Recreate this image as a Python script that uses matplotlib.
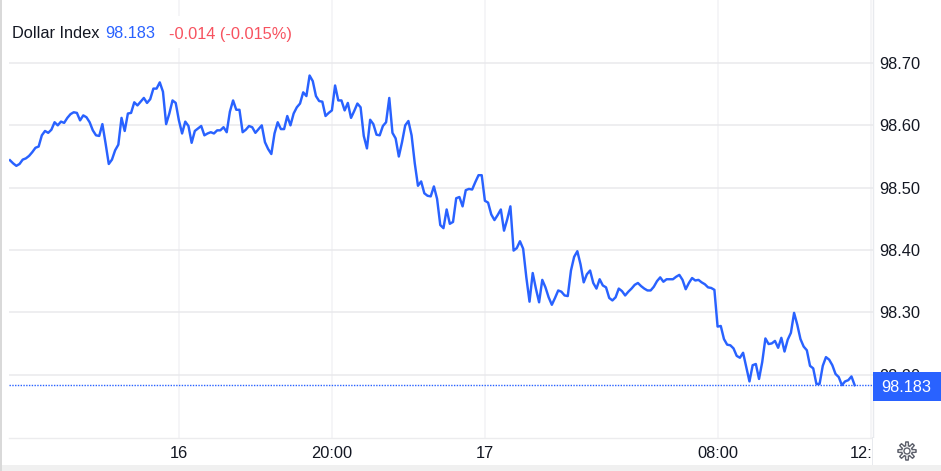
import numpy as np
import matplotlib
matplotlib.use("Agg")
import matplotlib.pyplot as plt
from matplotlib.patches import Rectangle, Polygon, Circle
from matplotlib.transforms import IdentityTransform

prices = [
98.544,98.539,98.535,98.538,98.545,98.547,98.551,98.557,98.564,98.566,98.584,98.591,98.588,98.593,98.605,98.600,
98.606,98.604,98.612,98.618,98.621,98.620,98.608,98.616,98.613,98.605,98.592,98.584,98.583,98.602,98.571,98.538,
98.545,98.560,98.569,98.612,98.591,98.619,98.620,98.637,98.632,98.638,98.644,98.636,98.642,98.659,98.659,98.669,
98.654,98.602,98.619,98.640,98.636,98.608,98.587,98.606,98.599,98.572,98.591,98.595,98.599,98.584,98.587,98.589,
98.587,98.592,98.592,98.597,98.589,98.622,98.640,98.625,98.625,98.589,98.593,98.599,98.597,98.588,98.594,98.600,
98.573,98.562,98.554,98.587,98.605,98.594,98.594,98.615,98.600,98.619,98.629,98.635,98.653,98.647,98.680,98.671,
98.647,98.639,
98.638,98.615,98.620,98.624,98.664,98.640,98.640,98.624,98.636,98.612,98.623,98.635,98.629,98.583,98.563,
98.609,98.602,98.585,98.584,98.599,98.605,98.644,98.588,98.579,98.550,98.573,98.600,98.607,98.584,98.539,98.503,
98.510,98.491,98.487,98.486,98.502,98.482,98.440,98.435,98.465,98.442,98.445,98.483,98.485,98.470,98.496,98.498,
98.497,98.509,98.520,98.520,98.479,98.476,98.457,98.448,98.456,98.465,98.431,98.449,98.470,98.399,98.403,98.414,
98.402,98.356,98.317,98.363,98.338,98.316,98.352,98.340,98.324,98.312,98.323,98.335,98.333,98.327,98.326,98.367,
98.389,98.398,98.377,98.348,98.361,98.367,98.347,98.338,98.353,98.343,98.340,98.323,98.319,98.324,98.338,
98.334,98.327,98.333,98.338,98.344,98.347,98.342,98.338,98.335,98.335,98.341,98.350,98.356,98.349,98.353,
98.353,98.353,98.357,98.360,98.352,98.337,98.347,98.355,98.351,98.352,98.348,98.345,98.340,98.339,98.336,98.277,
98.278,98.257,98.248,98.247,98.242,98.230,98.227,98.235,98.212,98.189,98.215,98.217,98.193,98.220,98.258,98.249,
98.250,98.254,98.243,98.259,98.237,98.256,98.267,98.299,98.280,98.257,98.245,98.239,98.214,98.210,98.185,98.185,
98.214,98.228,98.224,98.215,98.201,98.196,98.183,98.189,98.191,98.197,98.183,
]
last_price = 98.183
y_ticks = [98.20, 98.30, 98.40, 98.50, 98.60, 98.70]
y_labels = ["98.20", "98.30", "98.40", "98.50", "98.60", "98.70"]
x_tick_bars = [53, 101, 149, 222, 270]
x_labels = ["16", "20:00", "17", "08:00", "12:00"]

W, H = 941, 471
FONT = "Liberation Sans"
BLUE = "#2962ff"
INK = "#131722"
RED = "#f7525f"
plt.rcParams["font.family"] = FONT

def fx(p): return p / W
def fy(p): return 1 - p / H

fig = plt.figure(figsize=(W / 100, H / 100), dpi=100, facecolor="white")
ax = fig.add_axes([fx(9), fy(437.5), (872.5 - 9) / W, 437.5 / H])
ax.set_facecolor("white")

bars = np.arange(len(prices))
ax.plot(bars, prices, color=BLUE, lw=1.75, solid_joinstyle="round", zorder=3)
ax.axhline(last_price, color=BLUE, lw=1.0, ls=(0, (1, 1)), zorder=2)

ax.set_xlim(-0.3, 270.6)
ax.set_ylim(98.0990, 98.8012)
ax.set_yticks(y_ticks, y_labels)
ax.set_xticks(x_tick_bars, x_labels)
ax.yaxis.tick_right()
ax.tick_params(axis="y", length=0, pad=5.0, labelsize=11.8, labelcolor=INK)
ax.tick_params(axis="x", length=0, pad=6.0, labelsize=11.8, labelcolor=INK)
ax.grid(axis="y", color="#e9e9ec", lw=1.1, zorder=0)
ax.grid(axis="x", color="#f2f3f5", lw=1.1, zorder=0)
ax.set_axisbelow(True)
for side in ("top", "left"):
    ax.spines[side].set_visible(False)
ax.spines["right"].set_color("#e8eaee")
ax.spines["bottom"].set_color("#ececee")
ax.spines["right"].set_linewidth(1.0)
ax.spines["bottom"].set_linewidth(1.0)

# white backing behind the header (breaks the vertical grid)
ax.add_patch(Rectangle((fx(9), fy(48)), 290 / W, 32 / H, transform=fig.transFigure,
                       fc="white", ec="none", zorder=1))

# cover for clipped tick label right of the plot, price tag, frame
fig.add_artist(Rectangle((fx(873), fy(465)), (W - 873) / W, 27.5 / H, transform=fig.transFigure,
                         fc="white", ec="none", zorder=1))
fig.add_artist(Rectangle((fx(872), fy(465)), 1.2 / W, 28 / H, transform=fig.transFigure,
                         fc="#e8eaee", ec="none", zorder=1.2))
fig.add_artist(Rectangle((0, 0), 1, 6 / H, transform=fig.transFigure,
                         fc="#f0f0f0", ec="none", zorder=1.2))
fig.add_artist(Rectangle((fx(0), 0), 1.6 / W, 1, transform=fig.transFigure,
                         fc="#d9d9d9", ec="none", zorder=1.2))
fig.add_artist(Rectangle((fx(873), fy(401)), (W - 873) / W, 29 / H, transform=fig.transFigure,
                         fc=BLUE, ec="none", zorder=1.5))
fig.text(fx(906.5), fy(387.5), "98.183", color="white", fontsize=11.8, ha="center", va="center")

fig.text(fx(12), fy(34), "Dollar Index", color=INK, fontsize=11.8, va="center")
fig.text(fx(105), fy(34), "98.183", color=BLUE, fontsize=11.8, va="center")
fig.text(fx(169), fy(34), "-0.014 (-0.015%)", color=RED, fontsize=11.8, va="center")

# settings gear
cx, cy = 907, H - 451
ang = np.linspace(0, 2 * np.pi, 240, endpoint=False)
rad = 7.2 + 1.9 * np.clip(2.2 * np.cos(8 * ang), -1, 1)
gear = np.column_stack([cx + rad * np.cos(ang), cy + rad * np.sin(ang)])
fig.add_artist(Polygon(gear, closed=True, fc="none", ec="#5d606b", lw=1.0,
                       transform=IdentityTransform(), zorder=2))
fig.add_artist(Circle((cx, cy), 3.0, fc="none", ec="#5d606b", lw=1.0,
                      transform=IdentityTransform(), zorder=2))

fig.savefig("out.png", dpi=100)
